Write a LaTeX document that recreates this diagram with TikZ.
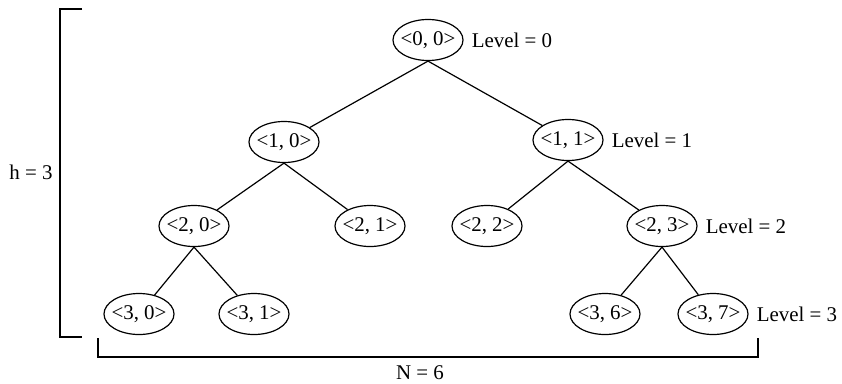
\documentclass[tikz,border=0pt]{standalone}
\usepackage{fontspec}
\setmainfont{Liberation Serif}
\usepackage{tikz}
\usetikzlibrary{shapes.geometric, positioning}
\tikzset{
  tree node/.style={
    ellipse,
    draw,
    line width=1.2pt,
    inner xsep=-8bp,
    inner ysep=0pt,
    minimum width=70bp,
    minimum height=41bp,
    font=\fontsize{21}{24}\selectfont
  },
  tree edge/.style={
    line width=1.2pt
  },
  level label/.style={
    anchor=west,
    inner sep=0pt,
    font=\fontsize{21}{24}\selectfont
  },
  bracket/.style={
    line width=1.3pt
  }
}

\begin{document}
\begin{tikzpicture}[x=1bp, y=-1bp]
    \useasboundingbox (0,0) rectangle (842,383);

    % 结点
    \node[tree node] (n00) at (428,40)  {<0, 0>};
    \node[tree node] (n10) at (284,142) {<1, 0>};
    \node[tree node] (n11) at (568,140) {<1, 1>};
    \node[tree node] (n20) at (194,226) {<2, 0>};
    \node[tree node] (n21) at (370,226) {<2, 1>};
    \node[tree node] (n22) at (487,226) {<2, 2>};
    \node[tree node] (n23) at (662,226) {<2, 3>};
    \node[tree node] (n30) at (139,314) {<3, 0>};
    \node[tree node] (n31) at (254,314) {<3, 1>};
    \node[tree node] (n36) at (605,314) {<3, 6>};
    \node[tree node] (n37) at (713,314) {<3, 7>};

    % 连线：从父结点底部出发
    \foreach \a/\b in {n00/n10, n00/n11, n10/n20, n10/n21, n11/n22, n11/n23,
                       n20/n30, n20/n31, n23/n36, n23/n37} {
      \draw[tree edge] (\a.south) -- (\b);
    }

    % 层号
    \node[level label, right=8bp of n00] (l0) {Level = 0};
    \node[level label, right=8bp of n11] (l1) {Level = 1};
    \node[level label, right=8bp of n23] (l2) {Level = 2};
    \node[level label, right=8bp of n37] (l3) {Level = 3};

    % 高度与宽度
    \coordinate (ha) at (82,9);
    \coordinate (hb) at (82,337);
    \draw[bracket] (ha) -- (60,9) -- (60,337) -- (hb);
    \node[level label, anchor=center] (h) at (31,172) {h = 3};

    \coordinate (wa) at (98,338);
    \coordinate (wb) at (758,338);
    \draw[bracket] (wa) -- (98,357) -- (758,357) -- (wb);
    \node[level label, anchor=center] (w) at (420,373) {N = 6};

  \end{tikzpicture}
\end{document}
